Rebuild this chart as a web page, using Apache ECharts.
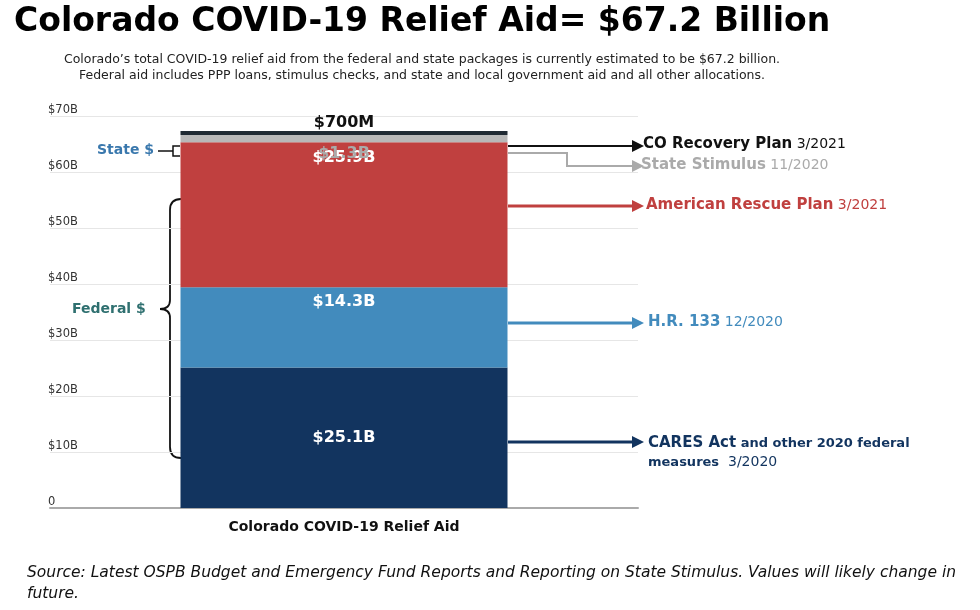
<!DOCTYPE html>
<html>
<head>
<meta charset="utf-8">
<script src="https://cdn.jsdelivr.net/npm/echarts@6/dist/echarts.min.js"></script>
<style>html,body{margin:0;padding:0;background:#fff}#main{width:980px;height:610px}</style>
</head>
<body>
<div id="main"></div>
<script>
// data
const category = ['Colorado COVID-19 Relief Aid'];
const segNames = ['CARES Act', 'H.R. 133', 'American Rescue Plan', 'State Stimulus', 'CO Recovery Plan'];
const segValues = [25.1, 14.3, 25.9, 1.3, 0.7];
const segLabels = ['$25.1B', '$14.3B', '$25.9B', '$1.3B', '$700M'];
const segColors = ['#12345f', '#428bbd', '#c0403f', '#b8b8b8', '#1f2a33'];
const yTicks = [0, 10, 20, 30, 40, 50, 60, 70];

const font = 'DejaVu Sans';
const chart = echarts.init(document.getElementById('main'));

const labelPos = [
    { position: 'inside', color: '#fff' },
    { position: 'insideTop', distance: 6, color: '#fff' },
    { position: 'insideTop', distance: 8, color: '#fff' },
    { position: 'bottom', distance: 4, color: '#aaa' },
    { position: 'top', distance: 0, color: '#111' }
];

const series = segValues.map((v, i) => ({
    name: segNames[i],
    type: 'bar',
    stack: 'aid',
    barWidth: 327,
    data: [v],
    itemStyle: { color: segColors[i] },
    label: {
        show: true,
        formatter: segLabels[i],
        fontFamily: font,
        fontWeight: 'bold',
        fontSize: 16,
        ...labelPos[i]
    }
}));

// 右侧箭头
function arrow(y, color, pts, w) {
    const p = pts || [[508, y], [632, y]];
    const end = p[p.length - 1];
    return [
        { type: 'polyline', shape: { points: p }, style: { stroke: color, lineWidth: w || 3, fill: null } },
        { type: 'polygon', shape: { points: [[end[0], end[1] - 6], [end[0] + 12, end[1]], [end[0], end[1] + 6]] }, style: { fill: color } }
    ];
}
function rightText(x, y, bold, normal, color, normColor) {
    return {
        type: 'text', x: x, y: y - 9,
        style: {
            text: '{b|' + bold + '}{n|' + normal + '}',
            rich: {
                b: { fontFamily: font, fontWeight: 'bold', fontSize: 15, fill: color },
                n: { fontFamily: font, fontSize: 14, fill: normColor || color }
            }
        }
    };
}
function curve(x1, y1, cx, cy, x2, y2) {
    return { type: 'bezierCurve', shape: { x1: x1, y1: y1, cpx1: cx, cpy1: cy, x2: x2, y2: y2 }, style: { stroke: '#111', lineWidth: 1.8, fill: null } };
}

const graphic = [
    { type: 'text', x: 14, y: 6, style: { text: 'Colorado COVID-19 Relief Aid= $67.2 Billion', fontFamily: font, fontWeight: 'bold', fontSize: 33, fill: '#000' } },
    { type: 'text', x: 422, y: 52, style: { text: 'Colorado\u2019s total COVID-19 relief aid from the federal and state packages is currently estimated to be $67.2 billion.\nFederal aid includes PPP loans, stimulus checks, and state and local government aid and all other allocations.', fontFamily: font, fontSize: 12.5, fill: '#222', align: 'center', lineHeight: 16 } },
    { type: 'text', x: 27, y: 562, style: { text: 'Source: Latest OSPB Budget and Emergency Fund Reports and Reporting on State Stimulus. Values will likely change in\nfuture.', fontFamily: font, fontStyle: 'italic', fontSize: 15.5, fill: '#111', lineHeight: 21 } },
    // brackets
    { type: 'polyline', shape: { points: [[180, 146], [173, 146], [173, 156], [180, 156]] }, style: { stroke: '#111', lineWidth: 1.5, fill: null } },
    { type: 'line', shape: { x1: 158, y1: 151, x2: 173, y2: 151 }, style: { stroke: '#111', lineWidth: 1.5 } },
    { type: 'text', x: 97, y: 143, style: { text: 'State $', fontFamily: font, fontWeight: 'bold', fontSize: 14, fill: '#3a78ad' } },
    curve(181, 199, 170, 199, 170, 210),
    { type: 'line', shape: { x1: 170, y1: 210, x2: 170, y2: 300 }, style: { stroke: '#111', lineWidth: 1.8 } },
    curve(170, 300, 170, 309, 160, 309),
    curve(160, 309, 170, 309, 170, 318),
    { type: 'line', shape: { x1: 170, y1: 318, x2: 170, y2: 447 }, style: { stroke: '#111', lineWidth: 1.8 } },
    curve(170, 447, 170, 458, 181, 458),
    { type: 'text', x: 72, y: 302, style: { text: 'Federal $', fontFamily: font, fontWeight: 'bold', fontSize: 14, fill: '#2f7070' } },
    ...arrow(146, '#111', [[508, 146], [632, 146]], 2),
    rightText(643, 146, 'CO Recovery Plan', ' 3/2021', '#111'),
    ...arrow(166, '#aaa', [[508, 153], [567, 153], [567, 166], [632, 166]], 2),
    rightText(641, 167, 'State Stimulus', ' 11/2020', '#aaa'),
    ...arrow(206, '#c0403f'),
    rightText(646, 207, 'American Rescue Plan', ' 3/2021', '#c0403f'),
    ...arrow(323, '#428bbd'),
    rightText(648, 324, 'H.R. 133', ' 12/2020', '#428bbd'),
    ...arrow(442, '#12345f'),
    {
        type: 'text', x: 648, y: 434,
        style: {
            text: '{b|CARES Act}{s| and other 2020 federal}\n{s|measures}{n|  3/2020}',
            lineHeight: 19,
            rich: {
                b: { fontFamily: font, fontWeight: 'bold', fontSize: 15, fill: '#12345f' },
                s: { fontFamily: font, fontWeight: 'bold', fontSize: 13, fill: '#12345f' },
                n: { fontFamily: font, fontSize: 14, fill: '#12345f' }
            }
        }
    }
];

chart.setOption({
    animation: false,
    grid: { left: 50, right: 342, top: 116, bottom: 102 },
    xAxis: {
        type: 'category',
        data: category,
        axisTick: { show: false },
        axisLine: { lineStyle: { color: '#aaa', width: 2 } },
        axisLabel: { fontFamily: font, fontWeight: 'bold', fontSize: 14, color: '#111', margin: 12 }
    },
    yAxis: {
        type: 'value',
        min: yTicks[0],
        max: yTicks[yTicks.length - 1],
        interval: 10,
        axisLine: { show: false },
        axisTick: { show: false },
        splitLine: { lineStyle: { color: '#e6e6e6' } },
        axisLabel: {
            inside: true,
            verticalAlign: 'bottom',
            margin: -2,
            fontFamily: font,
            fontSize: 11.5,
            color: '#333',
            formatter: v => v === 0 ? '0' : '$' + v + 'B'
        }
    },
    series: series,
    graphic: graphic
});
</script>
</body>
</html>
